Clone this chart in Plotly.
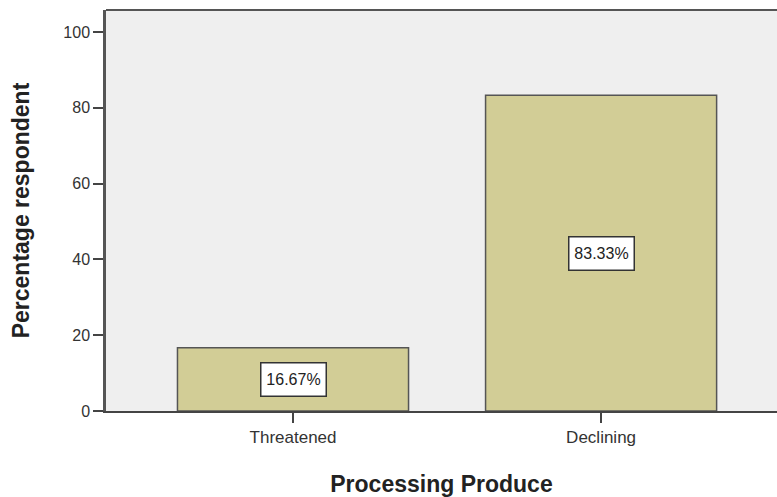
import plotly.graph_objects as go

categories = ["Threatened", "Declining"]
percentages = [16.67, 83.33]
y_ticks = [0, 20, 40, 60, 80, 100]

FONT = "Liberation Sans, Arial, sans-serif"
AXIS_COLOR = "#444444"

fig = go.Figure()
fig.add_trace(go.Bar(
    x=categories,
    y=percentages,
    width=0.75,
    marker=dict(color="#d2cd96", line=dict(color="#555555", width=1.5)),
    hoverinfo="skip",
))

# value labels in boxed annotations at the middle of each bar
for cat, val in zip(categories, percentages):
    fig.add_annotation(
        x=cat, y=val / 2, text=f"{val:.2f}%", showarrow=False,
        font=dict(family=FONT, size=16, color="#222222"),
        width=60, height=28,
        bgcolor="white", bordercolor="#333333", borderwidth=1.5, borderpad=2,
    )

# top frame line
fig.add_shape(type="line", xref="paper", yref="paper", x0=0, x1=1, y0=1, y1=1,
              line=dict(color="#555555", width=2))

fig.update_layout(
    width=777, height=497,
    margin=dict(l=106, r=0, t=10, b=86),
    paper_bgcolor="white",
    plot_bgcolor="#efefef",
    showlegend=False,
    font=dict(family=FONT, color="#333333"),
    xaxis=dict(
        range=[-0.607, 1.571],
        showline=True, linecolor=AXIS_COLOR, linewidth=1.5,
        ticks="outside", ticklen=10, tickcolor=AXIS_COLOR, tickwidth=1.5,
        tickfont=dict(family=FONT, size=17, color="#333333"),
        showgrid=False, zeroline=False,
        title=dict(text="<b>Processing Produce</b>",
                   font=dict(family=FONT, size=23, color="#222222"),
                   standoff=31),
    ),
    yaxis=dict(
        range=[0, 105.8],
        tickvals=y_ticks,
        showline=True, linecolor="#555555", linewidth=2.5,
        ticks="outside", ticklen=10, tickcolor=AXIS_COLOR, tickwidth=2,
        tickfont=dict(family=FONT, size=16, color="#333333"),
        showgrid=False, zeroline=False,
        title=dict(text="<b>Percentage respondent</b>",
                   font=dict(family=FONT, size=23, color="#222222"),
                   standoff=28),
    ),
)

fig.write_html("out.html")
